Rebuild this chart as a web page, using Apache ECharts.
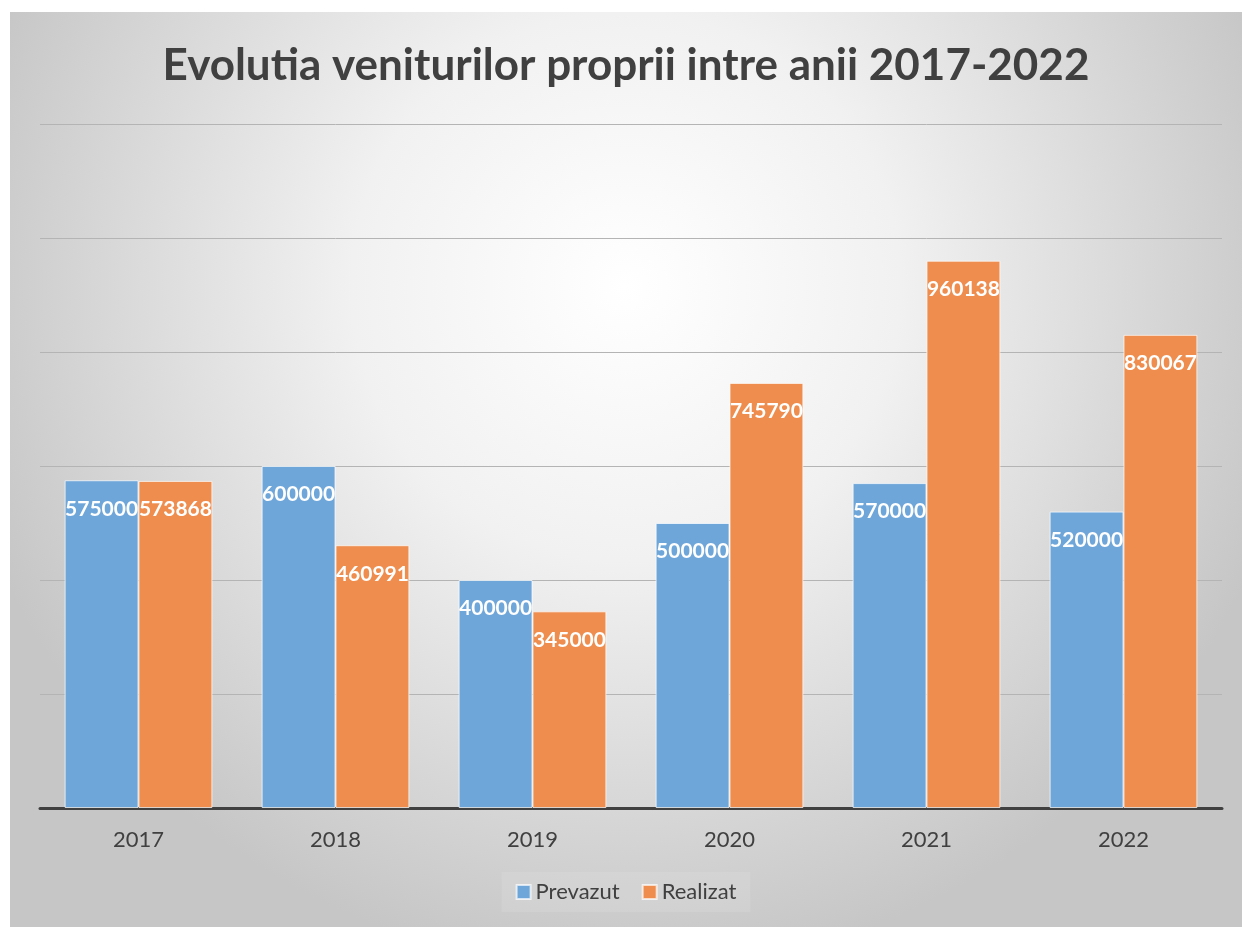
<!DOCTYPE html>
<html>
<head>
<meta charset="utf-8">
<script src="https://cdn.jsdelivr.net/npm/echarts@6/dist/echarts.min.js"></script>
<style>
html,body{margin:0;padding:0;background:#fff;}
#c{position:absolute;left:10px;top:12px;width:1232px;height:915px;}
</style>
</head>
<body>
<div id="c"></div>
<script>
const categories = ['2017','2018','2019','2020','2021','2022'];
const prevazut = [575000, 600000, 400000, 500000, 570000, 520000];
const realizat = [573868, 460991, 345000, 745790, 960138, 830067];
const seriesNames = ['Prevazut','Realizat'];
const titleText = 'Evolutia veniturilor proprii intre anii 2017-2022';

const FONT = 'Lato';
const chart = echarts.init(document.getElementById('c'));
const labelCfg = {
  show: true, position: 'insideTop', distance: 18,
  color: '#ffffff', fontWeight: 'bold', fontSize: 21, fontFamily: FONT
};
chart.setOption({
  backgroundColor: {
    type: 'radial', x: 0.5, y: 0.3, r: 0.75,
    colorStops: [
      {offset: 0, color: '#ffffff'},
      {offset: 0.4, color: '#f1f1f1'},
      {offset: 1, color: '#c6c6c6'}
    ]
  },
  title: {
    text: titleText, left: 'center', top: 27,
    textStyle: {color: '#404040', fontSize: 44, fontWeight: 'bold', fontFamily: FONT}
  },
  legend: {
    data: seriesNames, bottom: 15, left: 'center',
    itemWidth: 14, itemHeight: 14, itemGap: 22,
    icon: 'rect',
    textStyle: {color: '#404040', fontSize: 22, fontFamily: FONT},
    backgroundColor: 'rgba(255,255,255,0.1)', padding: [9, 14]
  },
  grid: {left: 30, right: 20, top: 112, bottom: 119},
  xAxis: {
    type: 'category', data: categories,
    axisLine: {lineStyle: {color: '#404040', width: 3}},
    axisTick: {show: false},
    axisLabel: {color: '#404040', fontSize: 22, fontFamily: FONT, margin: 21}
  },
  yAxis: {
    type: 'value', min: 0, max: 1200000, interval: 200000,
    axisLabel: {show: false}, axisLine: {show: false}, axisTick: {show: false},
    splitLine: {lineStyle: {color: '#b4b4b4', width: 1}}
  },
  series: [
    {name: seriesNames[0], type: 'bar', data: prevazut, barGap: '0%', barCategoryGap: '25%',
     itemStyle: {color: '#6ea6da', borderColor: 'rgba(255,255,255,0.7)', borderWidth: 1},
     label: labelCfg},
    {name: seriesNames[1], type: 'bar', data: realizat,
     itemStyle: {color: '#ee8d4d', borderColor: 'rgba(255,255,255,0.7)', borderWidth: 1},
     label: labelCfg}
  ]
});
</script>
</body>
</html>
